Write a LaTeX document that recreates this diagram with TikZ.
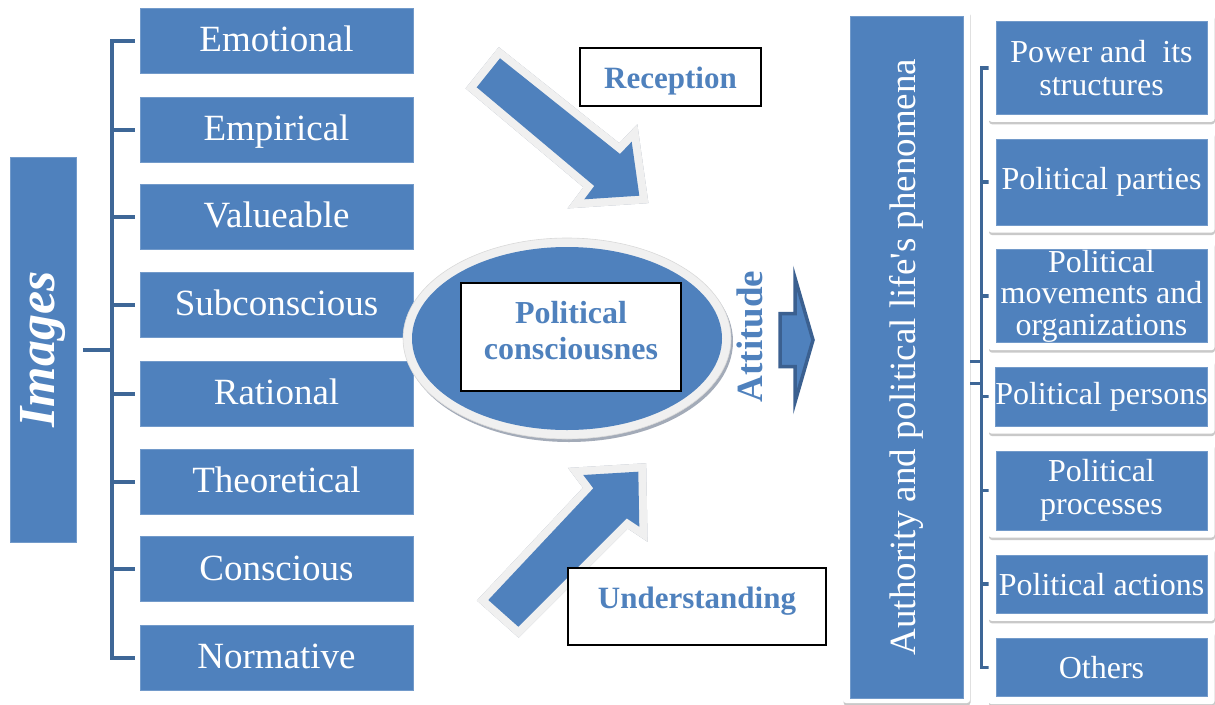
\documentclass[tikz,border=0pt]{standalone}
\usepackage{fontspec}
\setmainfont{Liberation Serif}
\usetikzlibrary{shadows,calc,shapes.geometric}
\definecolor{acc}{HTML}{4F81BD}
\definecolor{brk}{HTML}{3E6797}
\definecolor{rim}{HTML}{F0F0F0}
\definecolor{shd}{HTML}{A3ABB8}
\definecolor{dk}{HTML}{3B6090}
\begin{document}
\begin{tikzpicture}[x=1pt,y=-1pt,
  lbox/.style={fill=acc, draw=acc!80!white, line width=0.6pt, minimum width=273pt, minimum height=65pt,
    inner sep=0pt, text=white, font=\fontsize{37}{40}\selectfont, text height=26pt, text depth=4pt},
  card/.style={fill=white, rounded corners=3pt, inner sep=0pt,
    drop shadow={shadow xshift=0.5pt, shadow yshift=-2.5pt, opacity=0.3, fill=black!70}},
  rbox/.style={fill=acc, draw=acc!80!white, line width=0.6pt, minimum width=211pt, inner sep=0pt,
    text=white, align=center, font=\fontsize{32}{33}\selectfont},
  bluelbl/.style={text=acc, font=\fontsize{31}{34}\selectfont\bfseries},
  wbox/.style={fill=white, draw=black, line width=1.5pt, inner sep=0pt},
  lbrk/.style={draw=brk, line width=4pt},
  rbrk/.style={draw=brk, line width=3.5pt},
  rimline/.style={draw=rim, line width=16pt, line join=miter},
  shdline/.style={draw=shd, line width=16pt, line join=miter},
]
\useasboundingbox (0,0) rectangle (1215,704);

% ---------- left: Images ----------
\node[fill=acc, draw=acc!80!white, line width=0.6pt, rotate=90, minimum width=385pt, minimum height=66pt,
  inner sep=0pt, text=white, font=\fontsize{52}{56}\selectfont\bfseries\itshape]
  (images) at (43.5,349.5) {Images\hspace{13pt}};

\node[lbox] (e1) at (276.5,40.5) {Emotional};
\node[lbox] (e2) at (276.5,129.5) {Empirical};
\node[lbox] (e3) at (276.5,216.5) {Valueable};
\node[lbox] (e4) at (276.5,304.5) {Subconscious};
\node[lbox] (e5) at (276.5,393.5) {Rational};
\node[lbox] (e6) at (276.5,481.5) {Theoretical};
\node[lbox] (e7) at (276.5,569) {Conscious};
\node[lbox] (e8) at (276.5,657.5) {Normative};

\coordinate (lsp) at (112,0);
\draw[lbrk, shorten <=5pt, shorten >=5pt] (e1.west) -- (e1.west -| lsp) -- (e8.west -| lsp) -- (e8.west);
\foreach \i in {2,...,7}{
  \draw[lbrk, shorten >=5pt] (e\i.west -| lsp) -- (e\i.west);
}
\draw[lbrk, shorten <=6pt] (images.south) -- (images.south -| lsp);

% ---------- centre: arrows ----------
\coordinate (ra1) at (500,58.3);
\coordinate (ra2) at (620,154);
\coordinate (ra3) at (631.7,141.7);
\coordinate (ra4) at (639.3,195.7);
\coordinate (ra5) at (584.3,199.3);
\coordinate (ra6) at (594.3,186);
\coordinate (ra7) at (476.7,87.3);
\draw[shdline, shift={(1.5,2.5)}] (ra1) -- (ra2) -- (ra3) -- (ra4) -- (ra5) -- (ra6) -- (ra7) -- cycle;
\draw[rimline] (ra1) -- (ra2) -- (ra3) -- (ra4) -- (ra5) -- (ra6) -- (ra7) -- cycle;
\fill[acc] (ra1) -- (ra2) -- (ra3) -- (ra4) -- (ra5) -- (ra6) -- (ra7) -- cycle;

\coordinate (ua1) at (488.3,600);
\coordinate (ua2) at (593.3,488.3);
\coordinate (ua3) at (583.3,475);
\coordinate (ua4) at (638.3,471.7);
\coordinate (ua5) at (639.3,526.7);
\coordinate (ua6) at (626.7,518.3);
\coordinate (ua7) at (518.3,626.7);
\draw[shdline, shift={(1.5,2.5)}] (ua1) -- (ua2) -- (ua3) -- (ua4) -- (ua5) -- (ua6) -- (ua7) -- cycle;
\draw[rimline] (ua1) -- (ua2) -- (ua3) -- (ua4) -- (ua5) -- (ua6) -- (ua7) -- cycle;
\fill[acc] (ua1) -- (ua2) -- (ua3) -- (ua4) -- (ua5) -- (ua6) -- (ua7) -- cycle;

% ---------- centre: ellipse ----------
\fill[shd] (569,341.5) ellipse [x radius=164pt, y radius=100.5pt];
\fill[rim, draw=black!15, line width=0.6pt] (567,338.5) ellipse [x radius=164pt, y radius=100.5pt];
\node[ellipse, fill=acc, minimum width=310pt, minimum height=183pt, inner sep=0pt] (pc) at (567,338.5) {};
\node[wbox, minimum width=220pt, minimum height=108pt, align=center,
  font=\fontsize{32}{36}\selectfont\bfseries, text=acc] (pcl) at (571,337)
  {Political\\consciousnes\rule[-14pt]{0pt}{14pt}};

\node[wbox, minimum width=181pt, minimum height=58pt, bluelbl, text height=26pt, text depth=4pt]
  (rec) at (670.5,77) {Reception};
\node[wbox, minimum width=258pt, minimum height=77pt, bluelbl, text height=23pt, text depth=20pt]
  (und) at (697,606.5) {Understanding};

\node[rotate=90, text=acc, font=\fontsize{37}{40}\selectfont\bfseries, inner sep=0pt]
  (att) at (749.5,336.5) {Attitude};

\coordinate (aa1) at (780,313.5);
\coordinate (aa2) at (795,313.5);
\coordinate (aa3) at (795,278);
\coordinate (aa4) at (813,340);
\coordinate (aa5) at (795,402);
\coordinate (aa6) at (795,366.5);
\coordinate (aa7) at (780,366.5);
\draw[fill=acc, draw=dk, line width=3.5pt, line join=miter]
  (aa1) -- (aa2) -- (aa3) -- (aa4) -- (aa5) -- (aa6) -- (aa7) -- cycle;

% ---------- right ----------
\coordinate (rsp) at (981.5,0);
\node[card, minimum width=127pt, minimum height=693pt] (cauth) at (906.5,356.5) {};
\node[fill=acc, draw=acc!80!white, line width=0.6pt, rotate=90, minimum width=682pt, minimum height=113pt,
  inner sep=0pt, text=white, font=\fontsize{37}{40}\selectfont] (auth) at (906.5,357)
  {Authority and political life\textquotesingle s phenomena};

\node[minimum width=211pt, minimum height=92.6pt, inner sep=0pt] (r1) at (1101.5,68) {};
\node[minimum width=211pt, minimum height=85.7pt, inner sep=0pt] (r2) at (1101.5,182.2) {};
\node[minimum width=211pt, minimum height=93.4pt, inner sep=0pt] (r3) at (1101.5,296) {};
\node[minimum width=211pt, minimum height=58.7pt, inner sep=0pt] (r4) at (1101.5,396.7) {};
\node[minimum width=211pt, minimum height=79pt, inner sep=0pt] (r5) at (1101.5,490.5) {};
\node[minimum width=211pt, minimum height=58.3pt, inner sep=0pt] (r6) at (1101.5,584.2) {};
\node[minimum width=211pt, minimum height=58.4pt, inner sep=0pt] (r7) at (1101.5,667.5) {};

\draw[rbrk] (r1.west) -- (r1.west -| rsp) -- (r7.west -| rsp) -- (r7.west);
\foreach \i in {2,...,6}{
  \draw[rbrk] (r\i.west -| rsp) -- (r\i.west);
}
\draw[rbrk] ([yshift=-5pt]cauth.east) -- ([yshift=-5pt]cauth.east -| rsp);
\draw[rbrk] ([yshift=-27pt]cauth.east) -- ([yshift=-27pt]cauth.east -| rsp);

\node[card, minimum width=226pt, minimum height=107.6pt] (c1) at (r1) {};
\node[card, minimum width=226pt, minimum height=100.7pt] (c2) at (r2) {};
\node[card, minimum width=226pt, minimum height=108.4pt] (c3) at (r3) {};
\node[card, minimum width=226pt, minimum height=73.7pt] (c4) at (r4) {};
\node[card, minimum width=226pt, minimum height=94pt] (c5) at (r5) {};
\node[card, minimum width=226pt, minimum height=73.3pt] (c6) at (r6) {};
\node[card, minimum width=226pt, minimum height=73.4pt] (c7) at (r7) {};

\node[rbox, minimum height=92.6pt] (b1) at (r1) {Power and\ \ its\\structures};
\node[rbox, minimum height=85.7pt] (b2) at (r2) {Political parties};
\node[rbox, minimum height=93.4pt, font=\fontsize{32}{31.5}\selectfont] (b3) at (r3) {Political\\movements and\\organizations};
\node[rbox, minimum height=58.7pt] (b4) at (r4) {Political persons};
\node[rbox, minimum height=79pt] (b5) at (r5) {Political\\processes};
\node[rbox, minimum height=58.3pt] (b6) at (r6) {Political actions};
\node[rbox, minimum height=58.4pt] (b7) at (r7) {Others};
\end{tikzpicture}
\end{document}
